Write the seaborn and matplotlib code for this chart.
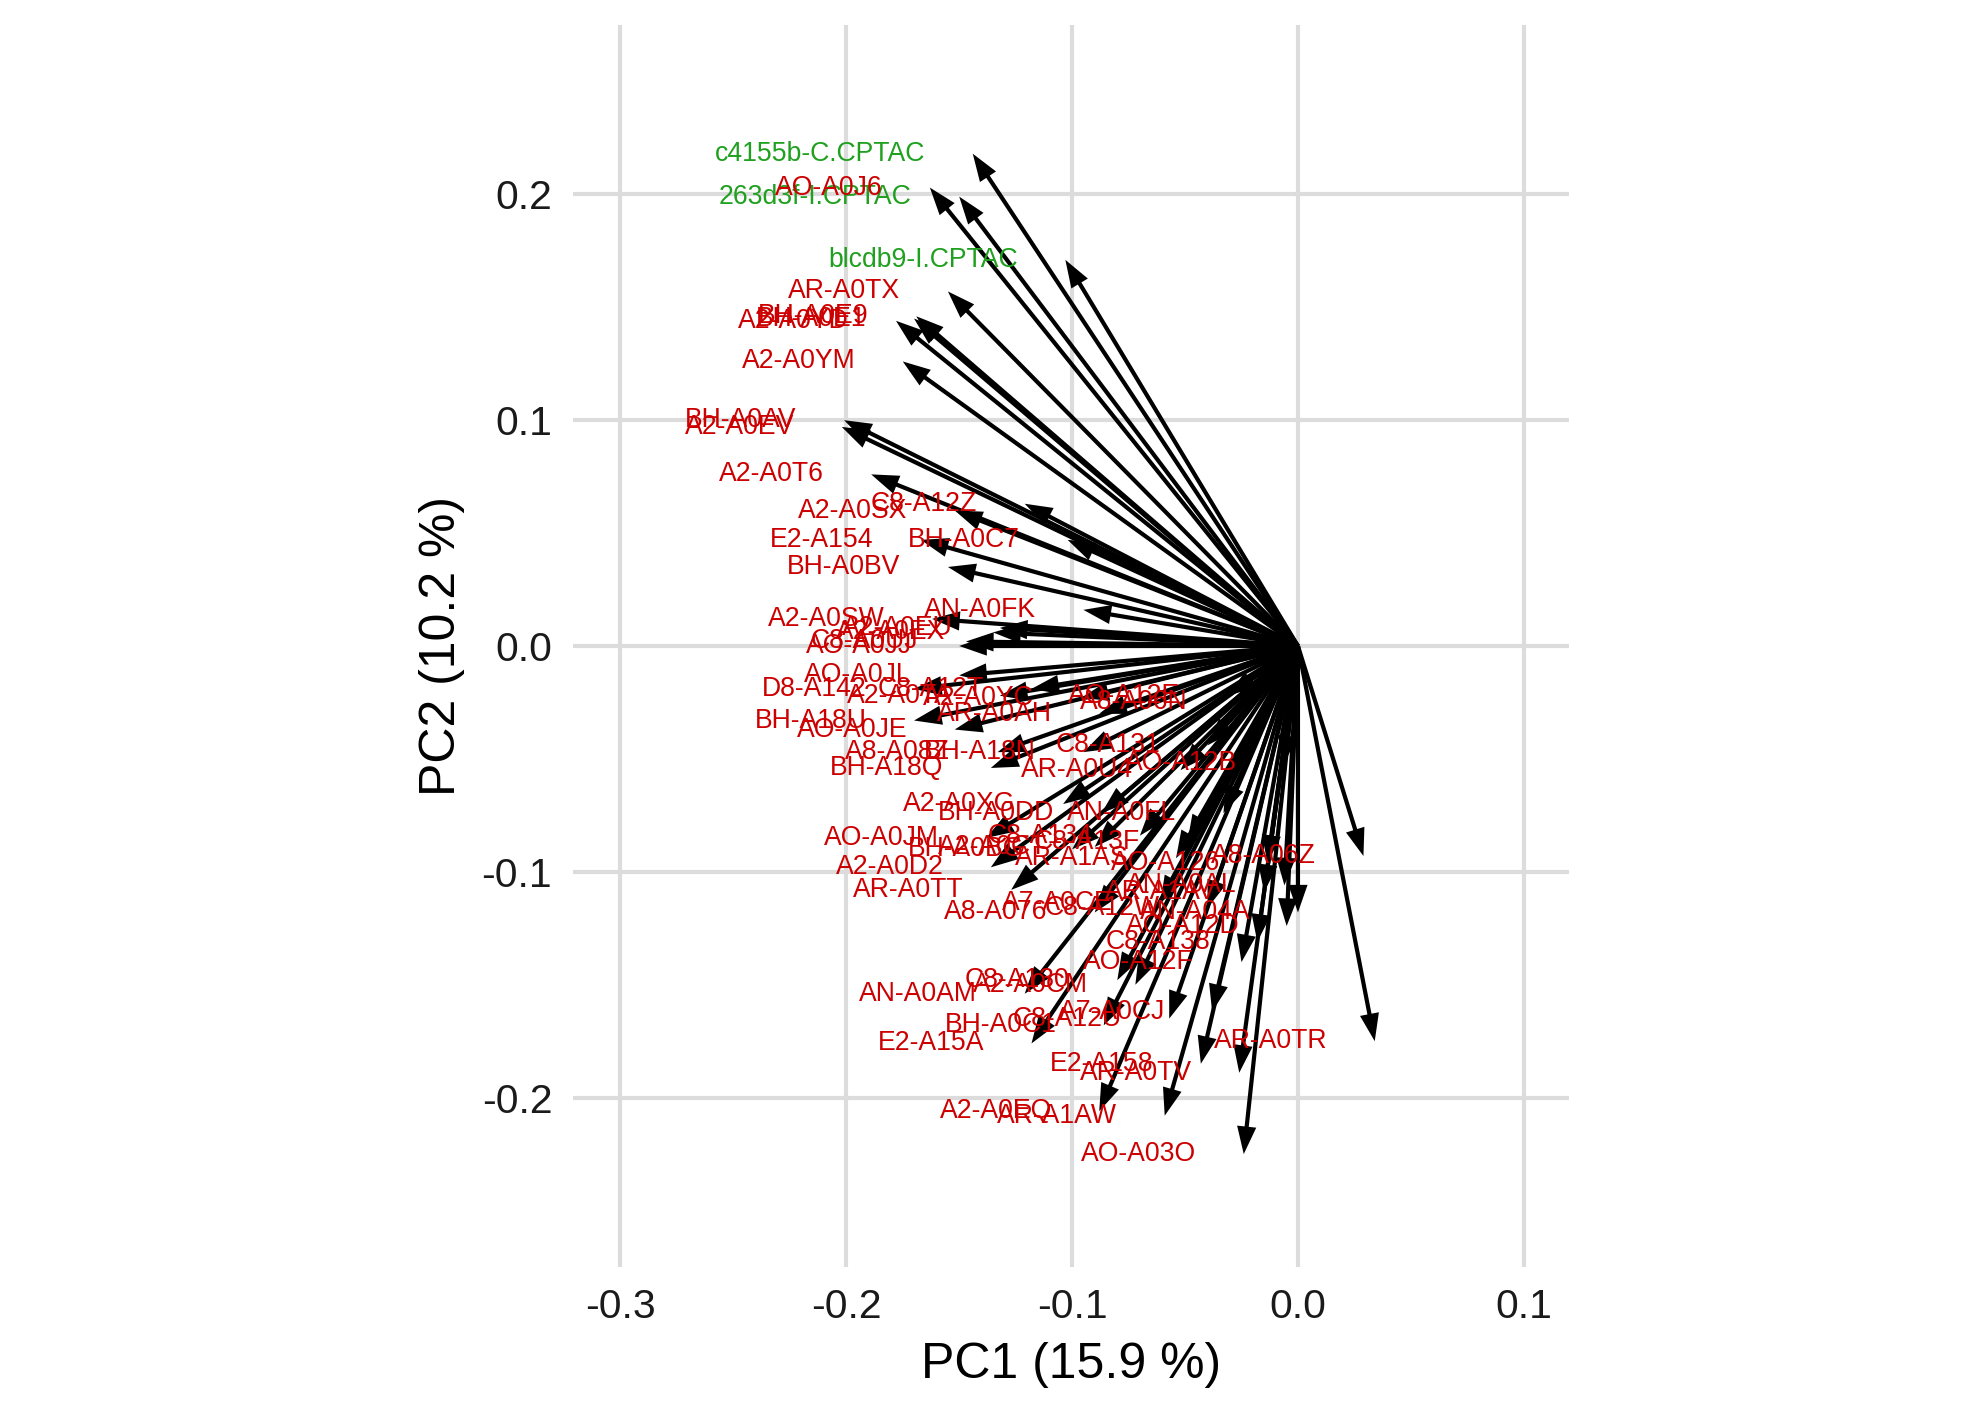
import numpy as np
import pandas as pd
import matplotlib
matplotlib.use('Agg')
import matplotlib.pyplot as plt
import seaborn as sns

sns.set_theme(style='whitegrid')
plt.rcParams['font.family'] = ['Liberation Sans', 'DejaVu Sans']

# loadings (arrow tips)
labels = ['c4155b-C.CPTAC', '263d3f-I.CPTAC', 'blcdb9-I.CPTAC',
          'AO-A0J6', 'AR-A0TX', 'BH-A0E9', 'BH-A0E1', 'A2-A0YD', 'A2-A0YM',
          'BH-A0AV', 'A2-A0EV', 'A2-A0T6', 'A2-A0SX', 'C8-A12Z', 'E2-A154',
          'BH-A0C7', 'BH-A0BV', 'AN-A0FK', 'A2-A0SW', 'A2-A0EU', 'A2-A0EX',
          'AO-A0JJ', 'C8-A0UJ', 'AO-A0JL', 'D8-A142', 'C8-A12T', 'A2-A0TA',
          'A2-A0YC', 'AR-A0AH', 'BH-A18U', 'AO-A0JE', 'A8-A08Z', 'BH-A18N',
          'BH-A18Q', 'C8-A131', 'AR-A0U4', 'AO-A12B', 'AO-A12E', 'A8-A06N',
          'A2-A0XG', 'BH-A0DD', 'AN-A0FL', 'AO-A0JM', 'C8-A134', 'BH-A0BG',
          'A2-A0CT', 'C8-A13F', 'AR-A1AS', 'A2-A0D2', 'AR-A0TT', 'A8-A076',
          'A7-A0CE', 'C8-A12W', 'AN-A04A', 'AO-A126', 'A8-A06Z', 'AN-A0AL',
          'AR-A1AV', 'AO-A12D', 'C8-A138', 'AO-A12F', 'A2-A0CM', 'C8-A130',
          'AN-A0AM', 'BH-A0C1', 'C8-A12U', 'A7-A0CJ', 'E2-A15A', 'E2-A158',
          'AR-A0TV', 'AR-A0TR', 'A2-A0EQ', 'AR-A1AW', 'AO-A03O']
pc1 = [-0.144, -0.150, -0.103,
       -0.163, -0.155, -0.169, -0.170, -0.178, -0.175,
       -0.201, -0.202, -0.189, -0.152, -0.121, -0.167,
       -0.102, -0.155, -0.095, -0.162, -0.132, -0.135,
       -0.150, -0.147, -0.150, -0.170, -0.118, -0.132,
       -0.096, -0.088, -0.170, -0.152, -0.133, -0.095,
       -0.136, -0.040, -0.052, -0.006, -0.031, -0.028,
       -0.104, -0.087, -0.033, -0.138, -0.070, -0.100,
       -0.090, -0.049, -0.054, -0.136, -0.127, -0.090,
       -0.061, -0.040, 0.000, -0.0135, 0.029, -0.006,
       -0.015, -0.005, -0.018, -0.025, -0.072, -0.080,
       -0.121, -0.086, -0.057, -0.038, -0.118, -0.043,
       -0.026, 0.034, -0.088, -0.059, -0.024]
pc2 = [0.218, 0.199, 0.171,
       0.203, 0.157, 0.146, 0.145, 0.144, 0.126,
       0.100, 0.097, 0.076, 0.060, 0.063, 0.047,
       0.047, 0.035, 0.016, 0.012, 0.008, 0.006,
       0.000, 0.002, -0.013, -0.019, -0.019, -0.022,
       -0.023, -0.030, -0.033, -0.037, -0.047, -0.047,
       -0.054, -0.044, -0.055, -0.052, -0.022, -0.025,
       -0.070, -0.074, -0.074, -0.085, -0.084, -0.090,
       -0.089, -0.087, -0.094, -0.098, -0.108, -0.118,
       -0.114, -0.116, -0.118, -0.096, -0.093, -0.106,
       -0.109, -0.124, -0.131, -0.140, -0.150, -0.148,
       -0.154, -0.168, -0.165, -0.162, -0.176, -0.185,
       -0.189, -0.175, -0.206, -0.208, -0.225]
cohort = ['CPTAC'] * 3 + ['TCGA'] * (len(labels) - 3)
cohort_colors = {'CPTAC': '#1FA01F', 'TCGA': '#CC0000'}

df = pd.DataFrame({'label': labels, 'PC1': pc1, 'PC2': pc2, 'cohort': cohort})

fig = plt.figure(figsize=(1987 / 300, 1415 / 300), dpi=300)
ax = fig.add_axes([573 / 1987, 1 - 1267 / 1415, 996 / 1987, 1242 / 1415])

# arrows from the origin to each loading
ax.quiver(np.zeros(len(df)), np.zeros(len(df)), df['PC1'], df['PC2'],
          angles='xy', scale_units='xy', scale=1, color='black',
          width=0.0042, headwidth=4.6, headlength=6.6, headaxislength=6.6,
          zorder=3)

# labels right-aligned just left of each arrow tip
for _, r in df.iterrows():
    ax.text(r['PC1'] - 0.021, r['PC2'], r['label'], ha='right', va='center',
            fontsize=6.4, color=cohort_colors[r['cohort']], zorder=4)

ax.set_xlim(-0.321, 0.120)
ax.set_ylim(-0.275, 0.275)
ax.set_aspect('equal')
ax.set_xticks([-0.3, -0.2, -0.1, 0.0, 0.1])
ax.set_yticks([-0.2, -0.1, 0.0, 0.1, 0.2])
ax.set_xticklabels(['-0.3', '-0.2', '-0.1', '0.0', '0.1'])
ax.set_yticklabels(['-0.2', '-0.1', '0.0', '0.1', '0.2'])
ax.set_facecolor('white')
ax.grid(True, color='#DCDCDC', linewidth=1.0)
for s in ax.spines.values():
    s.set_visible(False)
ax.tick_params(axis='both', labelsize=9.8, colors='#1A1A1A', pad=5, length=0)
ax.set_xlabel('PC1 (15.9 %)', fontsize=12, color='black', labelpad=4)
ax.set_ylabel('PC2 (10.2 %)', fontsize=12, color='black', labelpad=4)

fig.savefig('out.png', dpi=300)
